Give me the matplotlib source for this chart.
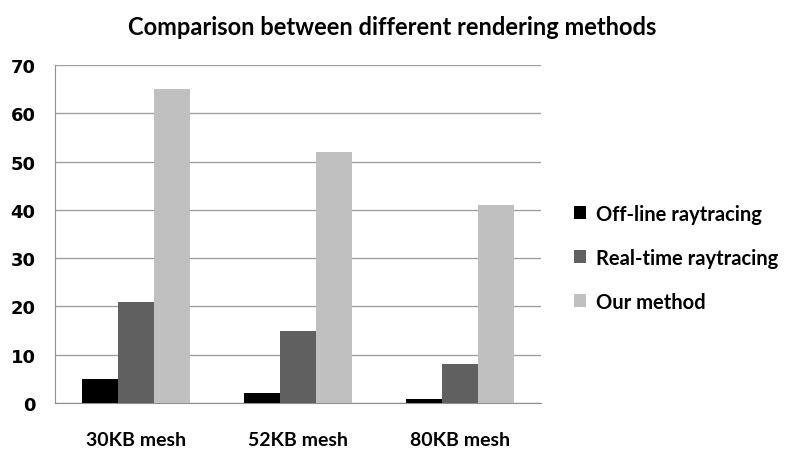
import numpy as np
import matplotlib.pyplot as plt

categories = ["30KB mesh", "52KB mesh", "80KB mesh"]
offline = [5, 2, 0.8]
realtime = [21, 15, 8]
ours = [65, 52, 41]
series_names = ["Off-line raytracing", "Real-time raytracing", "Our method"]
colors = ["#000000", "#606060", "#c0c0c0"]

fig = plt.figure(figsize=(7.85, 4.52), dpi=100)
ax = fig.add_axes([0.070, 0.106, 0.619, 0.748])

x = np.arange(len(categories))
w = 0.222
for i, (vals, name, c) in enumerate(zip([offline, realtime, ours], series_names, colors)):
    ax.bar(x + (i - 1) * w, vals, w, color=c, label=name, zorder=3)

ax.set_xlim(-0.5, 2.5)
ax.set_ylim(0, 70)
ax.set_yticks(range(0, 71, 10))
ax.yaxis.grid(True, color="#a0a0a0", linewidth=1, zorder=0)
ax.set_xticks(x)
ax.set_xticklabels(categories, fontfamily="Lato", fontweight="bold", fontsize=14)
ax.tick_params(axis="x", length=0, pad=20)
ax.tick_params(axis="y", length=0, pad=14)
for lbl in ax.get_yticklabels():
    lbl.set_fontfamily("DejaVu Sans")
    lbl.set_fontweight("bold")
    lbl.set_fontsize(13)
for s in ["top", "right"]:
    ax.spines[s].set_visible(False)
for s in ["left", "bottom"]:
    ax.spines[s].set_color("#909090")

fig.text(0.5, 0.94, "Comparison between different rendering methods",
         ha="center", va="center", fontfamily="Lato", fontweight="bold", fontsize=17)

ax.legend(loc="center left", bbox_to_anchor=(1.03, 0.43), frameon=False,
          prop={"family": "Lato", "weight": "bold", "size": 14.5},
          handlelength=0.6, handleheight=0.6, handletextpad=0.5, labelspacing=1.2)

fig.savefig("out.png", dpi=100)
